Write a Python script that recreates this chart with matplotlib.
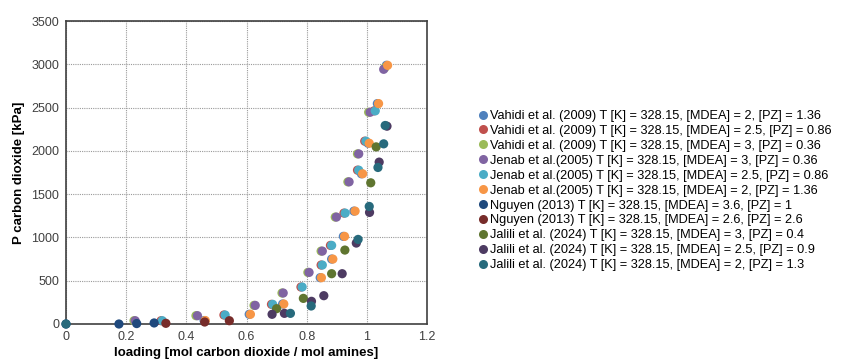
import matplotlib
matplotlib.use("Agg")
import matplotlib.pyplot as plt
from matplotlib.lines import Line2D

plt.rcParams['font.family'] = ['Liberation Sans', 'DejaVu Sans']

labels = [
    "Vahidi et al. (2009) T [K] = 328.15, [MDEA] = 2, [PZ] = 1.36",
    "Vahidi et al. (2009) T [K] = 328.15, [MDEA] = 2.5, [PZ] = 0.86",
    "Vahidi et al. (2009) T [K] = 328.15, [MDEA] = 3, [PZ] = 0.36",
    "Jenab et al.(2005) T [K] = 328.15, [MDEA] = 3, [PZ] = 0.36",
    "Jenab et al.(2005) T [K] = 328.15, [MDEA] = 2.5, [PZ] = 0.86",
    "Jenab et al.(2005) T [K] = 328.15, [MDEA] = 2, [PZ] = 1.36",
    "Nguyen (2013) T [K] = 328.15, [MDEA] = 3.6, [PZ] = 1",
    "Nguyen (2013) T [K] = 328.15, [MDEA] = 2.6, [PZ] = 2.6",
    "Jalili et al. (2024) T [K] = 328.15, [MDEA] = 3, [PZ] = 0.4",
    "Jalili et al. (2024) T [K] = 328.15, [MDEA] = 2.5, [PZ] = 0.9",
    "Jalili et al. (2024) T [K] = 328.15, [MDEA] = 2, [PZ] = 1.3",
]
colors = ["#4f81bd", "#c0504d", "#9bbb59", "#8064a2", "#4bacc6", "#f79646",
          "#1f497d", "#772c2a", "#5f7530", "#4d3b62", "#276a7c"]

# Vahidi et al. (2009)
vahidi_2_x = [0.459, 0.609, 0.720, 0.845, 0.883, 0.922, 0.957, 0.982, 1.004, 1.035, 1.065]
vahidi_2_y = [40, 112, 231, 535, 750, 1012, 1304, 1735, 2088, 2546, 2988]
vahidi_25_x = [0.316, 0.525, 0.683, 0.781, 0.848, 0.879, 0.924, 0.969, 0.993, 1.024]
vahidi_25_y = [38, 104, 227, 427, 681, 908, 1281, 1777, 2112, 2462]
vahidi_3_x = [0.226, 0.432, 0.625, 0.718, 0.804, 0.848, 0.895, 0.937, 0.969, 1.006, 1.060]
vahidi_3_y = [38, 96, 215, 358, 596, 842, 1235, 1642, 1965, 2446, 2960]
# Jenab et al. (2005)
jenab_3_x = [0.230, 0.437, 0.629, 0.722, 0.808, 0.852, 0.899, 0.941, 0.973, 1.011, 1.056]
jenab_3_y = [38, 96, 215, 358, 596, 842, 1235, 1642, 1965, 2446, 2942]
jenab_25_x = [0.320, 0.529, 0.687, 0.785, 0.852, 0.883, 0.928, 0.973, 0.997, 1.028]
jenab_25_y = [38, 104, 227, 427, 681, 908, 1281, 1777, 2112, 2462]
jenab_2_x = [0.463, 0.613, 0.724, 0.849, 0.887, 0.926, 0.961, 0.986, 1.008, 1.039, 1.069]
jenab_2_y = [40, 112, 231, 535, 750, 1012, 1304, 1735, 2088, 2546, 2988]
# Nguyen (2013)
nguyen_36_x = [0.0, 0.176, 0.235, 0.293]
nguyen_36_y = [0, 0, 5, 12]
nguyen_26_x = [0.332, 0.461, 0.543]
nguyen_26_y = [8, 23, 38]
# Jalili et al. (2024)
jalili_3_x = [0.700, 0.789, 0.883, 0.927, 1.013, 1.031]
jalili_3_y = [177, 296, 581, 854, 1631, 2046]
jalili_25_x = [0.685, 0.726, 0.816, 0.857, 0.918, 0.965, 1.009, 1.041, 1.067]
jalili_25_y = [112, 123, 262, 327, 581, 935, 1289, 1870, 2285]
jalili_2_x = [0.0, 0.746, 0.815, 0.971, 1.008, 1.037, 1.056, 1.061]
jalili_2_y = [0, 123, 208, 977, 1358, 1808, 2081, 2293]

series_x = [vahidi_2_x, vahidi_25_x, vahidi_3_x, jenab_3_x, jenab_25_x, jenab_2_x,
            nguyen_36_x, nguyen_26_x, jalili_3_x, jalili_25_x, jalili_2_x]
series_y = [vahidi_2_y, vahidi_25_y, vahidi_3_y, jenab_3_y, jenab_25_y, jenab_2_y,
            nguyen_36_y, nguyen_26_y, jalili_3_y, jalili_25_y, jalili_2_y]

fig = plt.figure(figsize=(8.41, 3.63), dpi=100)
ax = fig.add_axes([66/841, 1 - 324/363, (427-66)/841, (324-21)/363])

for xs, ys, c in zip(series_x, series_y, colors):
    ax.scatter(xs, ys, s=44, color=c, edgecolors='none', zorder=3, clip_on=False)

ax.set_xlim(0, 1.2)
ax.set_ylim(0, 3500)
ax.set_xticks([0, 0.2, 0.4, 0.6, 0.8, 1.0, 1.2])
ax.set_xticklabels(["0", "0.2", "0.4", "0.6", "0.8", "1", "1.2"])
ax.set_yticks(range(0, 3501, 500))
ax.grid(True, linestyle=(0, (1, 1)), color='#9a9a9a', linewidth=0.8)
ax.set_axisbelow(True)
for sp in ax.spines.values():
    sp.set_color('#404040')
    sp.set_linewidth(1.2)
ax.tick_params(axis='both', length=0, labelsize=9, colors='#404040', pad=5)
ax.set_xlabel("loading [mol carbon dioxide / mol amines]", fontsize=9.5, fontweight='bold', labelpad=3)
ax.set_ylabel("P carbon dioxide [kPa]", fontsize=9.5, fontweight='bold', labelpad=4)

handles = [Line2D([], [], marker='o', linestyle='none', markersize=6.5, color=c,
                  markeredgewidth=0) for c in colors]
fig.legend(handles, labels, loc='upper left', bbox_to_anchor=(477/841, 1 - 110/363),
           frameon=False, fontsize=9.15, handletextpad=0.05, handlelength=1.0,
           labelspacing=0.23, borderaxespad=0, borderpad=0)

fig.savefig("out.png", dpi=100)
